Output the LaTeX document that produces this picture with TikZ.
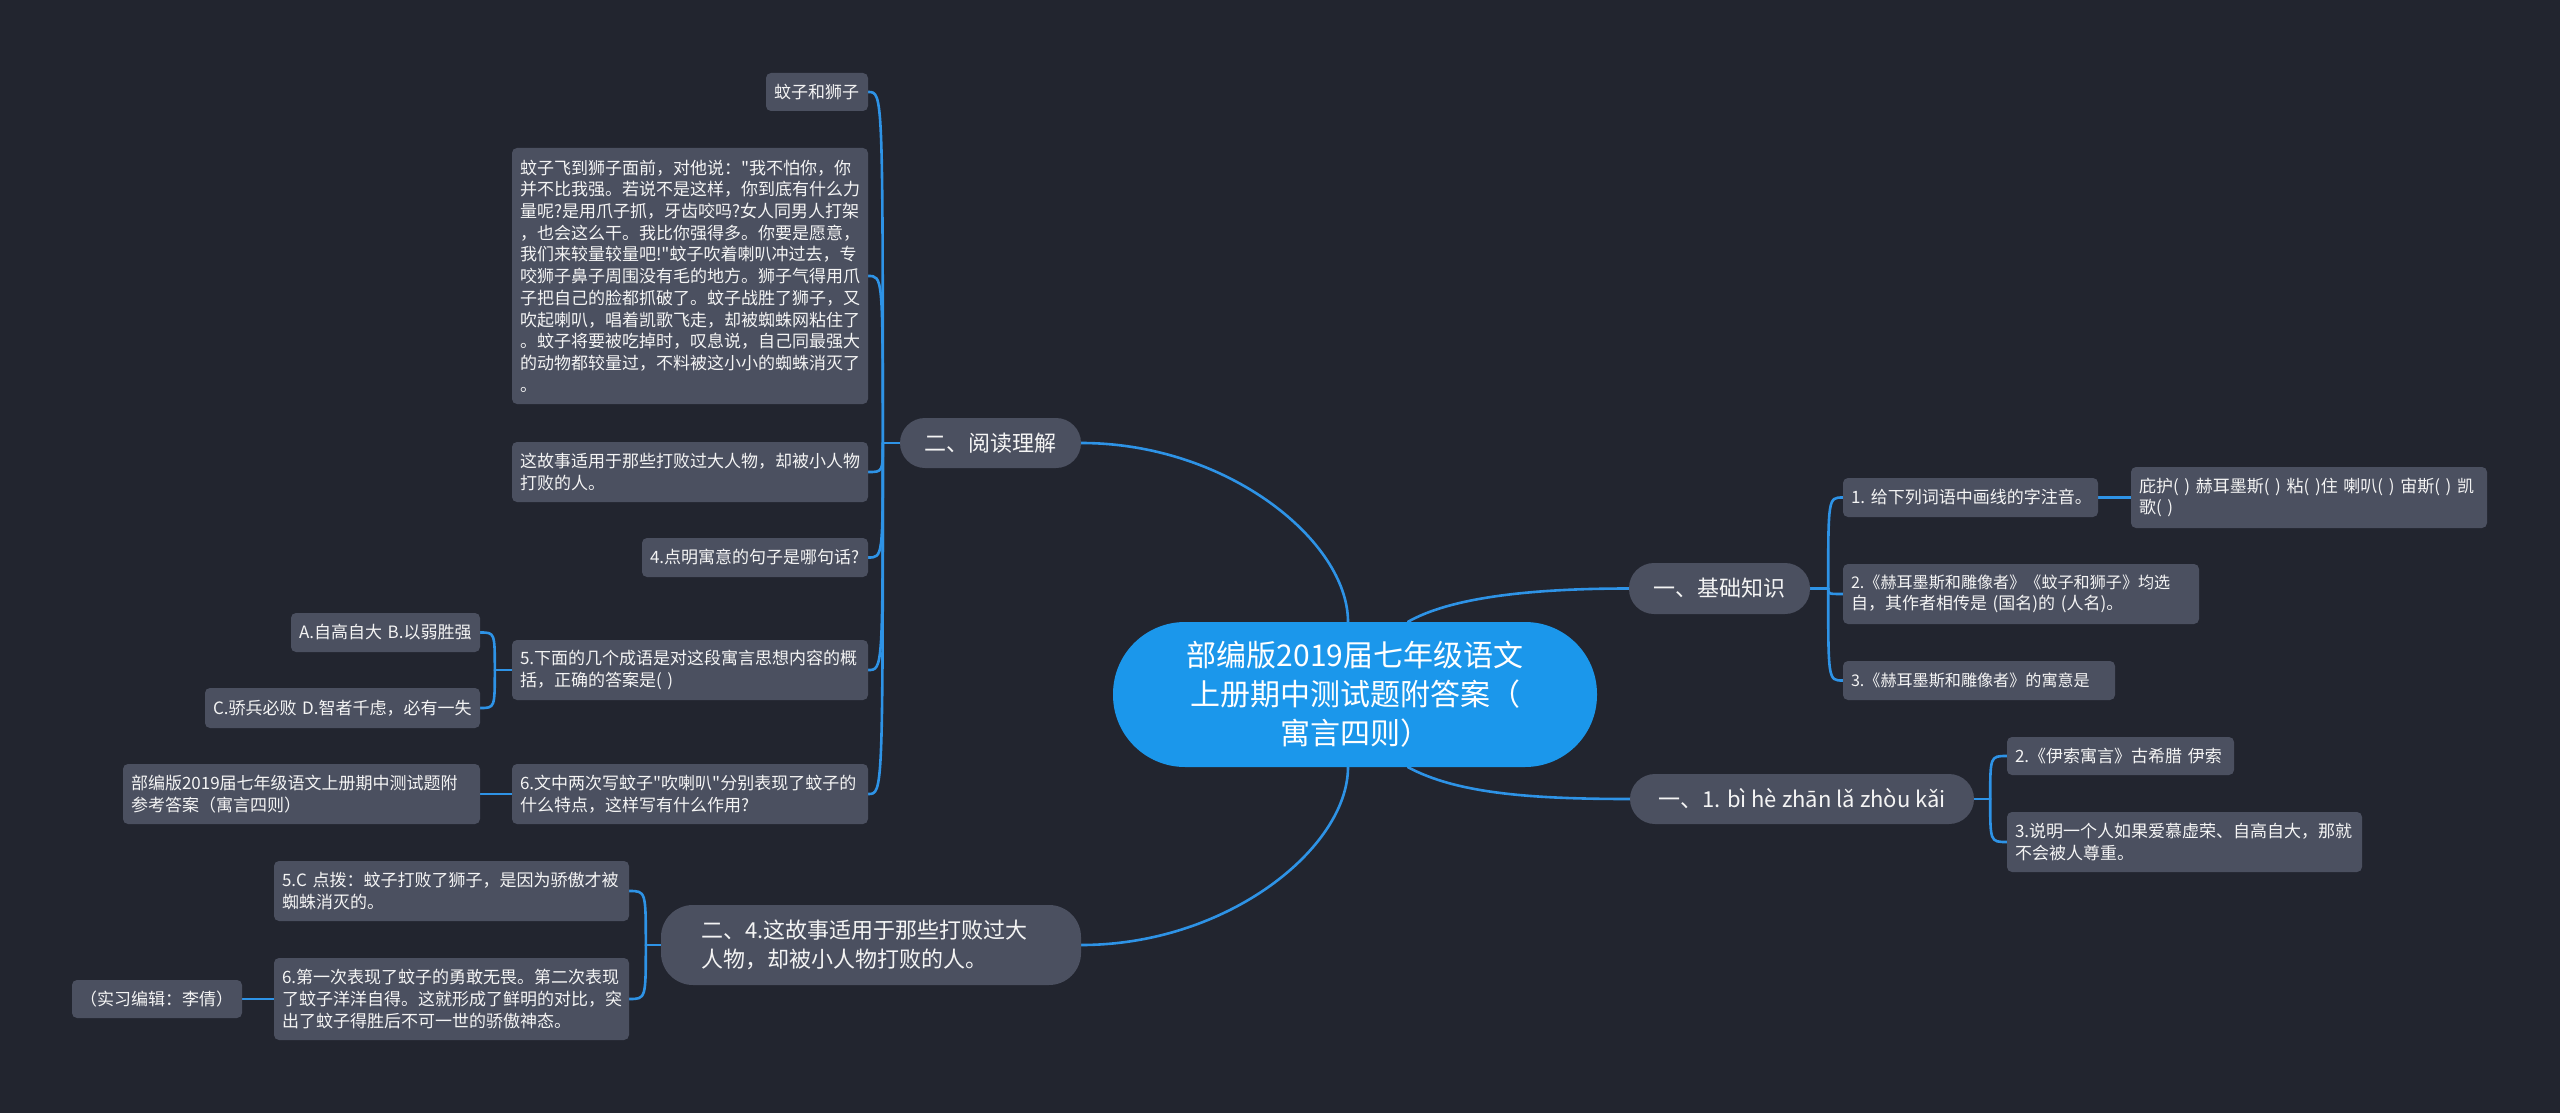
\documentclass[tikz,border=0pt]{standalone}
\usepackage{fontspec}
\setmainfont{Noto Sans CJK SC}
\newfontfamily\cjkf{Noto Sans CJK SC}
\definecolor{bgc}{HTML}{22252F}
\definecolor{nodec}{HTML}{4B5060}
\definecolor{rootc}{HTML}{1B97EB}
\definecolor{linec}{HTML}{2E93E6}
\definecolor{txtc}{HTML}{F4F4F4}
\newcommand\fleaf{\cjkf\fontsize{17}{21.7}\selectfont}
\newcommand\fsmall{\fontsize{16.1}{21.7}\selectfont}
\newcommand\fmainb{\cjkf\fontsize{22}{29}\selectfont}
\newcommand\frootb{\cjkf\fontsize{30}{39}\selectfont}
\pgfdeclarelayer{back}
\pgfdeclarelayer{lines}
\pgfsetlayers{back,lines,main}
\tikzset{
  leafbox/.style={fill=nodec, rounded corners=5pt, inner xsep=8pt, inner ysep=0pt, text=txtc, font=\fleaf, align=left},
  mainbox/.style={fill=nodec, rounded corners=25pt, inner sep=0pt, text=txtc, font=\fmainb, align=center},
  rootbox/.style={fill=rootc, rounded corners=72pt, inner sep=0pt, text=white, font=\frootb, align=center, minimum width=484pt, minimum height=145pt},
  conn/.style={draw=linec, line width=2.6pt, line cap=round, line join=round},
}
\begin{document}
\begin{tikzpicture}[x=1pt,y=-1pt]
\begin{pgfonlayer}{back}
\fill[bgc] (0,0) rectangle (2560,1113);
\end{pgfonlayer}
\useasboundingbox (0,0) rectangle (2560,1113);

% root and main branches
\node[rootbox] (root) at (1355,694.5) {部编版2019届七年级语文\\上册期中测试题附答案（\\寓言四则）};
\node[mainbox, minimum width=181pt, minimum height=50pt] (b2) at (990.5,443) {二、阅读理解};
\node[mainbox, rounded corners=32pt, minimum width=420pt, minimum height=80pt, align=left, text width=340pt] (b4) at (871,945) {二、4.这故事适用于那些打败过大\\人物，却被小人物打败的人。};
\node[mainbox, minimum width=181pt, minimum height=51pt] (a1) at (1719.5,588.5) {一、基础知识};
\node[mainbox, minimum width=344pt, minimum height=50pt] (a2) at (1802,799) {一、1. bì hè zhān lǎ zhòu kǎi};

% left upper leaves
\node[leafbox, text width=86pt, minimum height=38pt] (L1) at (817,92) {蚊子和狮子};
\node[leafbox, text width=340pt, minimum height=256pt] (L2) at (690,276) {蚊子飞到狮子面前，对他说："我不怕你，你\\并不比我强。若说不是这样，你到底有什么力\\量呢?是用爪子抓，牙齿咬吗?女人同男人打架\\，也会这么干。我比你强得多。你要是愿意，\\我们来较量较量吧!"蚊子吹着喇叭冲过去，专\\咬狮子鼻子周围没有毛的地方。狮子气得用爪\\子把自己的脸都抓破了。蚊子战胜了狮子，又\\吹起喇叭，唱着凯歌飞走，却被蜘蛛网粘住了\\。蚊子将要被吃掉时，叹息说，自己同最强大\\的动物都较量过，不料被这小小的蜘蛛消灭了\\。};
\node[leafbox, text width=340pt, minimum height=60pt] (L3) at (690,472) {这故事适用于那些打败过大人物，却被小人物\\打败的人。};
\node[leafbox, text width=210pt, minimum height=39pt] (L4) at (755,557.5) {4.点明寓意的句子是哪句话?};
\node[leafbox, text width=340pt, minimum height=60pt] (L5) at (690,670) {5.下面的几个成语是对这段寓言思想内容的概\\括，正确的答案是(~)};
\node[leafbox, text width=340pt, minimum height=60pt] (L6) at (690,794) {6.文中两次写蚊子"吹喇叭"分别表现了蚊子的\\什么特点，这样写有什么作用?};
\node[leafbox, text width=173pt, minimum height=39pt] (L5a) at (385.5,632.5) {A.自高自大~B.以弱胜强};
\node[leafbox, text width=259pt, minimum height=40pt] (L5b) at (342.5,708) {C.骄兵必败~D.智者千虑，必有一失};
\node[leafbox, text width=341pt, minimum height=60pt] (L6a) at (301.5,794) {部编版2019届七年级语文上册期中测试题附\\参考答案（寓言四则）};

% left lower leaves
\node[leafbox, text width=339pt, minimum height=60pt] (M5) at (451.5,891) {5.C~点拨：蚊子打败了狮子，是因为骄傲才被\\蜘蛛消灭的。};
\node[leafbox, text width=339pt, minimum height=82pt] (M6) at (451.5,999) {6.第一次表现了蚊子的勇敢无畏。第二次表现\\了蚊子洋洋自得。这就形成了鲜明的对比，突\\出了蚊子得胜后不可一世的骄傲神态。};
\node[leafbox, text width=154pt, minimum height=38pt] (M6a) at (157,999) {（实习编辑：李倩）};

% right leaves
\node[leafbox, text width=239pt, minimum height=39pt] (R1) at (1970.5,497.5) {1.~给下列词语中画线的字注音。};
\node[leafbox, text width=340pt, minimum height=61pt] (R1a) at (2309,497.5) {庇护(~)~赫耳墨斯(~)~粘(~)住~喇叭(~)~宙斯(~)~凯\\歌(~)};
\node[leafbox, text width=340pt, minimum height=60pt] (R2) at (2021,594) {{\fsmall 2.《赫耳墨斯和雕像者》《蚊子和狮子》均选}\\自，其作者相传是~(国名)的~(人名)。};
\node[leafbox, text width=256pt, minimum height=39pt] (R3) at (1979,680.5) {{\fsmall 3.《赫耳墨斯和雕像者》的寓意是}};
\node[leafbox, text width=211pt, minimum height=38pt] (S2) at (2120.5,756) {2.《伊索寓言》古希腊~伊索};
\node[leafbox, text width=339pt, minimum height=60pt] (S3) at (2184.5,842) {3.说明一个人如果爱慕虚荣、自高自大，那就\\不会被人尊重。};

% connectors
\begin{pgfonlayer}{lines}
\draw[conn] (b2.east) .. controls +(147,0) and +(0,-80) .. ([xshift=-7pt]root.north);
\draw[conn] (b4.east) .. controls +(147,0) and +(0,80) .. ([xshift=-7pt]root.south);
\draw[conn] ([xshift=53pt]root.north) .. controls +(42,-24) and +(-100,0) .. (a1.west);
\draw[conn] ([xshift=53pt]root.south) .. controls +(48,26) and +(-100,0) .. (a2.west);

\coordinate (sb2) at ([xshift=-17pt]b2.west);
\draw[conn] (b2.west) -- (sb2);
\foreach \c in {L1,L2,L3,L4,L5,L6}
  \draw[conn] (sb2) .. controls (sb2 |- \c.east) .. (\c.east);

\coordinate (s5) at ([xshift=-17pt]L5.west);
\draw[conn] (L5.west) -- (s5);
\foreach \c in {L5a,L5b}
  \draw[conn] (s5) .. controls (s5 |- \c.east) .. (\c.east);
\draw[conn] (L6.west) -- (L6a.east);

\coordinate (sb4) at ([xshift=-15pt]b4.west);
\draw[conn] (b4.west) -- (sb4);
\foreach \c in {M5,M6}
  \draw[conn] (sb4) .. controls (sb4 |- \c.east) .. (\c.east);
\draw[conn] (M6.west) -- (M6a.east);

\coordinate (sa1) at ([xshift=18pt]a1.east);
\draw[conn] (a1.east) -- (sa1);
\foreach \c in {R1,R2,R3}
  \draw[conn] (sa1) .. controls (sa1 |- \c.west) .. (\c.west);
\draw[conn] (R1.east) -- (R1a.west);

\coordinate (sa2) at ([xshift=16pt]a2.east);
\draw[conn] (a2.east) -- (sa2);
\foreach \c in {S2,S3}
  \draw[conn] (sa2) .. controls (sa2 |- \c.west) .. (\c.west);
\end{pgfonlayer}
\end{tikzpicture}
\end{document}
